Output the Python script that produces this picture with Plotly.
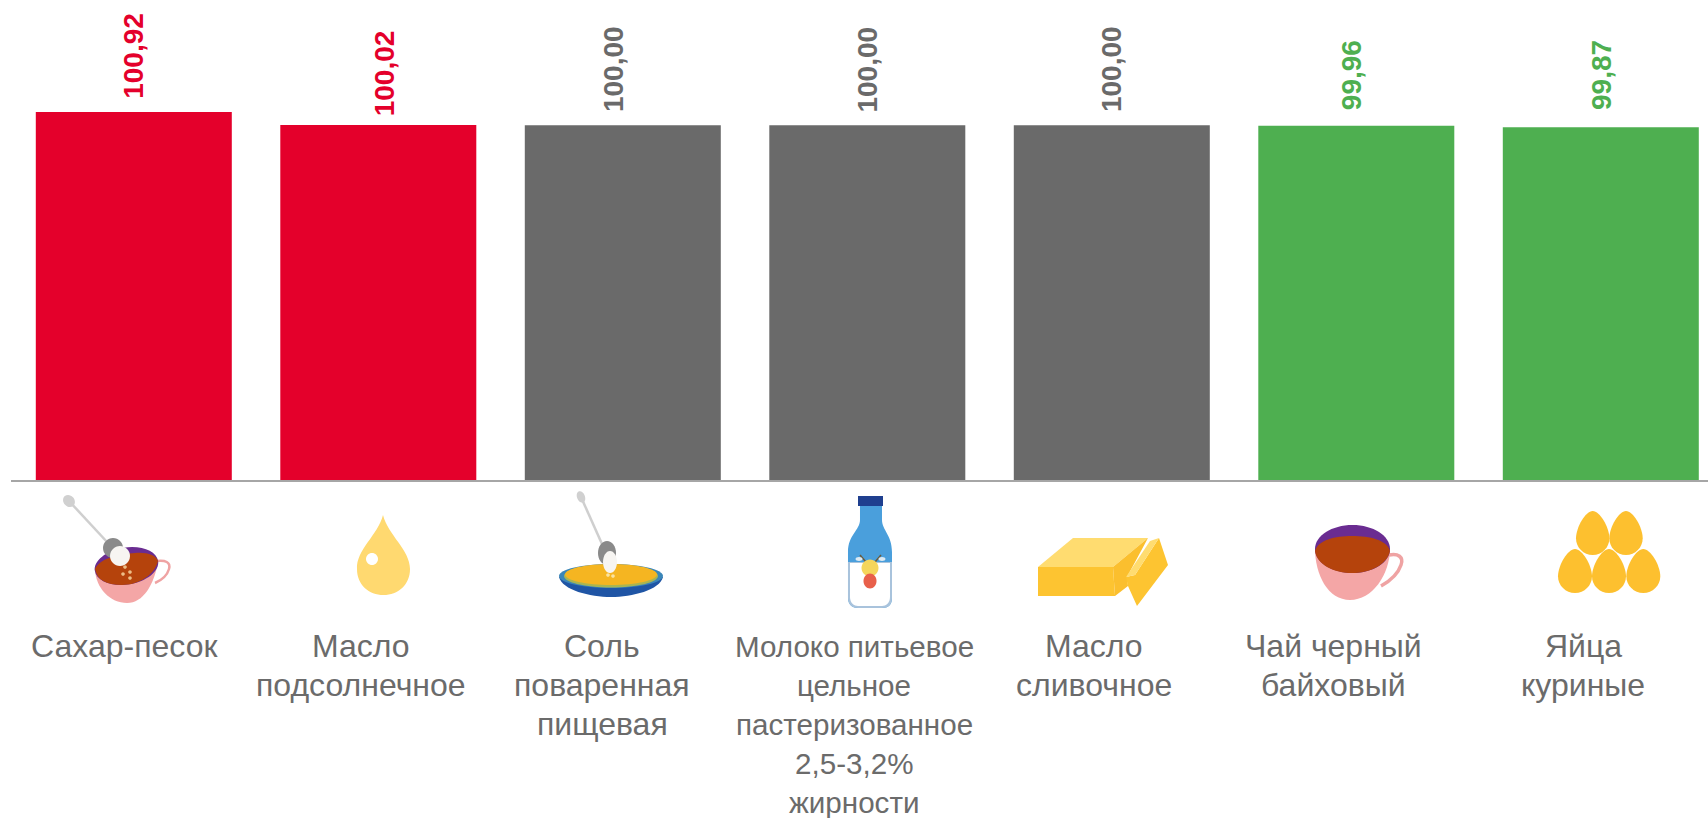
import math
import re
import plotly.graph_objects as go

# ---- data ----
categories = [
    "Сахар-песок",
    "Масло\nподсолнечное",
    "Соль\nповаренная\nпищевая",
    "Молоко питьевое\nцельное\nпастеризованное\n2,5-3,2%\nжирности",
    "Масло\nсливочное",
    "Чай черный\nбайховый",
    "Яйца\nкуриные",
]
values = [100.92, 100.02, 100.00, 100.00, 100.00, 99.96, 99.87]

# ---- styling / layout ----
RED, GREY, GREEN = "#E4002B", "#6A6A6A", "#4EAF50"
colors = [RED, RED, GREY, GREY, GREY, GREEN, GREEN]
W, H = 1708, 818
L, BASE = 11, 480
PITCH, FIRST = 244.5, 133.8
label_center_px = [124, 360.5, 602, 854, 1093.5, 1333, 1583]
label_font_px = [32, 32, 32, 29.6, 32, 32, 32]
value_dx = [-1, 6, -10, 0, -1, -4, 0]
value_gap = [12, 8, 12, 12, 12, 15, 16]
FONT = "Liberation Sans"
PX_PER_UNIT = 14.44
y_bottom = values[1] - (BASE - 125) / PX_PER_UNIT
y_top = y_bottom + BASE / PX_PER_UNIT


def px(x):
    return (x - L) / (W - L)


def py(y):
    return (BASE - y) / BASE


def conv(path):
    def rep(m):
        return f"{px(float(m.group(1))):.5f},{py(float(m.group(2))):.5f}"
    return re.sub(r"(-?[\d.]+),(-?[\d.]+)", rep, path)


shapes = []


def P(path, fill="rgba(0,0,0,0)", line=None, lw=0):
    shapes.append(dict(type="path", xref="paper", yref="paper", path=conv(path),
                       fillcolor=fill, line=dict(color=line or fill, width=lw),
                       layer="above"))


def E(cx, cy, rx, ry, fill, angle=0.0):
    # ellipse as four Bezier arcs, optionally tilted (degrees)
    k = 0.5523
    a = math.radians(angle)

    def r(dx, dy):
        return (f"{cx + dx * math.cos(a) - dy * math.sin(a):.2f},"
                f"{cy + dx * math.sin(a) + dy * math.cos(a):.2f}")
    P(f"M{r(rx, 0)} "
      f"C{r(rx, k * ry)} {r(k * rx, ry)} {r(0, ry)} "
      f"C{r(-k * rx, ry)} {r(-rx, k * ry)} {r(-rx, 0)} "
      f"C{r(-rx, -k * ry)} {r(-k * rx, -ry)} {r(0, -ry)} "
      f"C{r(k * rx, -ry)} {r(rx, -k * ry)} {r(rx, 0)} Z", fill)


def egg(cx, top, bot, r, fill="#FDC02F"):
    m = top + (bot - top) * 0.62
    P(f"M{cx},{top} C{cx-r*0.42},{top} {cx-r},{m-11} {cx-r},{m} "
      f"C{cx-r},{m+9.3} {cx-r*0.55},{bot} {cx},{bot} "
      f"C{cx+r*0.55},{bot} {cx+r},{m+9.3} {cx+r},{m} "
      f"C{cx+r},{m-11} {cx+r*0.42},{top} {cx},{top} Z", fill)


# icon 1: cup + spoon
P("M157,561 C165,560 171,562 169,569 C167,576 162,580 155,583", line="#EFA3A3", lw=2.5)
P("M95,570 C96,588 110,603 127,603 C143,603 154,585 158,562 Z", "#F4A6A6")
E(126.5, 566, 32, 18.5, "#6A2C91", -9)
P("M95,569 C100,558 120,554 135,553 C147,552 156,555 158,561 "
  "C155,574 140,585 122,585 C106,585 97,580 95,569 Z", "#B5430C")
P("M69,501 L108,543", line="#CFCFCF", lw=2.5)
E(69, 501, 5.5, 6.5, "#D0D0D0", -40)
E(113, 548, 10, 10, "#8A8A8A")
E(120, 556, 10, 10, "#F7F5F2")
for sx, sy in [(125, 567), (130, 572), (123, 574), (130, 578)]:
    E(sx, sy, 1.8, 1.8, "#EDBE88")

# icon 2: drop
P("M383,515 C378,535 356,550 357,569 C357,585 369,595 383.5,595 "
  "C398,595 410,585 410,569 C410,550 388,535 383,515 Z", "#FFD970")
E(372, 559, 6, 6, "#FFFFFF")

# icon 3: plate + spoon
P("M559,577 C562,590 590,597 611,597 C632,597 660,590 663,577 Z", "#1F55A5")
E(611, 576, 52, 12, "#3B86B8")
E(611, 576, 47, 11.5, "#A9B552")
E(611, 574.5, 46, 10.5, "#F5B521")
P("M581,497 L602,544", line="#CFCFCF", lw=2.5)
E(581, 497, 4, 6, "#D0D0D0", -20)
E(607, 553, 9, 12, "#8A8A8A")
E(610, 562, 7, 11, "#F7F5F2")
E(608, 575, 1.8, 1.8, "#FBE3A0")
E(613, 576, 1.8, 1.8, "#FBE3A0")

# icon 4: bottle
P("M860,506 L860,520 C860,530 848,535 848,552 L848,598 C848,605 853,608 858,608 "
  "L882,608 C888,608 892,605 892,598 L892,552 C892,535 882,530 882,520 L882,506 Z",
  "#4A9FDC")
P("M848,562 L892,562 L892,598 C892,605 888,608 882,608 L858,608 "
  "C853,608 848,605 848,598 Z", "#A9C3DC")
P("M850,563 L890,563 L890,597 C890,603 886,606 882,606 L858,606 "
  "C854,606 850,603 850,597 Z", "#FFFFFF")
P("M858,496 L883,496 L883,506 L858,506 Z", "#1F3F8F")
P("M866,562 L860,555", line="#6B5A3A", lw=1.5)
P("M875,562 L881,555", line="#6B5A3A", lw=1.5)
E(859, 559, 3.5, 2, "#DCE9F2")
E(882, 559, 3.5, 2, "#DCE9F2")
E(870, 568, 8.5, 8.5, "#F5D65C")
E(870, 581, 6.5, 7.5, "#E8604A")

# icon 5: butter
P("M1038,567 L1073,538 L1148,538 L1113,567 Z", "#FFDC70")
P("M1038,567 L1113,567 L1115,596 L1038,596 Z", "#FDC431")
P("M1113,567 L1148,538 L1127,577 L1128,586 L1115,596 Z", "#FBBF2E")
P("M1126,577 L1135,575 L1159,538 L1168,565 L1137,606 L1128,586 Z", "#FDC431")
P("M1126,577 L1150,541 L1159,538 L1135,575 Z", "#FFDC70")

# icon 6: tea cup
P("M1389,555 C1398,553 1404,557 1401,565 C1398,574 1390,581 1381,586", line="#EFA3A3", lw=3.5)
P("M1315,548 C1315,575 1328,600 1350,600 C1372,600 1390,575 1390,548 Z", "#F4A6A6")
E(1352.5, 549, 37.5, 24, "#6A2C91")
P("M1315,551 C1318,540 1335,536 1352,536 C1370,536 1387,540 1390,551 "
  "C1387,565 1370,573 1352,573 C1334,573 1317,565 1315,551 Z", "#B5430C")

# icon 7: eggs
for ex in (1592.7, 1626):
    egg(ex, 511, 555, 16.7)
for ex in (1575, 1609, 1643.3):
    egg(ex, 549, 593, 17)

annotations = []
for i, v in enumerate(values):
    annotations.append(dict(
        x=i, y=v, xref="x", yref="y", text="<b>" + f"{v:.2f}".replace(".", ",") + "</b>",
        textangle=-90, showarrow=False, xanchor="center", yanchor="bottom",
        xshift=value_dx[i], yshift=value_gap[i], borderpad=0,
        font=dict(family=FONT, size=28, color=colors[i]),
        ))
for i, cat in enumerate(categories):
    for j, line in enumerate(cat.split("\n")):
        annotations.append(dict(
            x=px(label_center_px[i]), y=py(646 + 39 * j), xref="paper", yref="paper",
            text=line, showarrow=False, xanchor="center", yanchor="middle",
            font=dict(family=FONT, size=label_font_px[i], color="#6B6B6B"),
            ))

fig = go.Figure(go.Bar(
    x=list(range(len(categories))), y=values, width=196 / PITCH, marker=dict(color=colors, line=dict(width=0)),
    hoverinfo="skip",
))
fig.update_layout(
    width=W, height=H, margin=dict(l=L, r=0, t=0, b=H - BASE, pad=0),
    paper_bgcolor="white", plot_bgcolor="white", showlegend=False,
    xaxis=dict(range=[(L - FIRST) / PITCH, (W - FIRST) / PITCH], showgrid=False, zeroline=False,
               showticklabels=False, ticks="", showline=True, linecolor="#A6A6A6", linewidth=1.5),
    yaxis=dict(range=[y_bottom, y_top], visible=False, showgrid=False, zeroline=False),
    annotations=annotations, shapes=shapes,
)
fig.write_html("out.html", config={"displayModeBar": False},
               post_script="document.body.style.margin='0';")
